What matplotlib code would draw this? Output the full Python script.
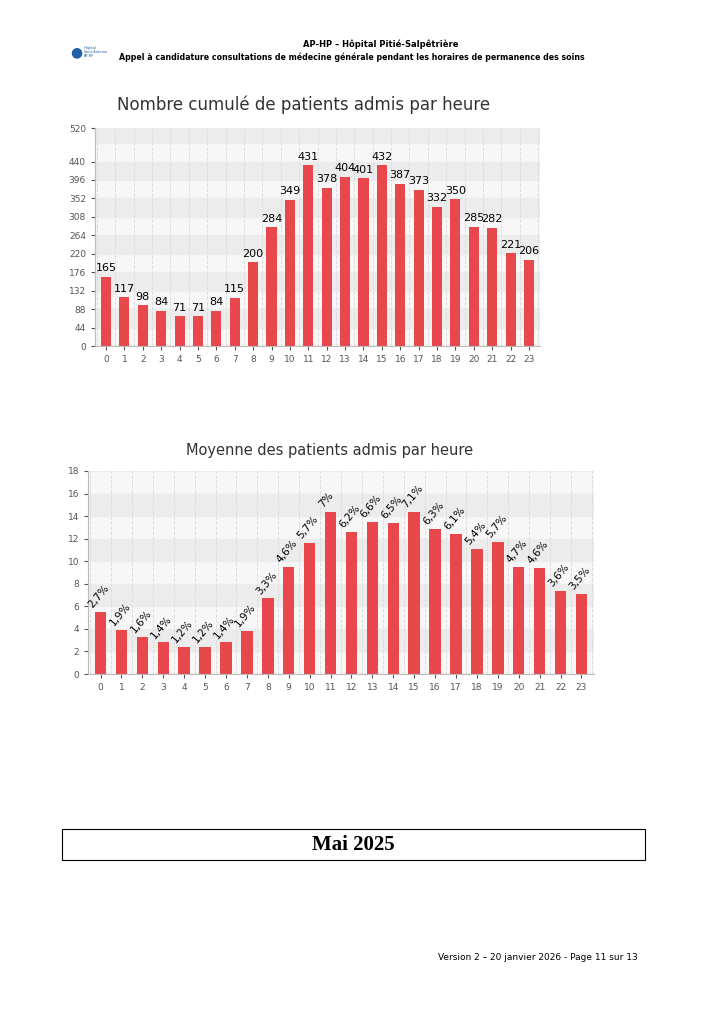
import numpy as np
from matplotlib import pyplot as plt
import matplotlib.patches as mpatches

hours = list(range(24))
cumul = [165, 117, 98, 84, 71, 71, 84, 115, 200, 284, 349, 431, 378, 404,
         401, 432, 387, 373, 332, 350, 285, 282, 221, 206]
moyenne = [5.5, 3.9, 3.3, 2.8, 2.4, 2.4, 2.8, 3.8, 6.7, 9.5, 11.6, 14.4, 12.6, 13.5,
           13.4, 14.4, 12.9, 12.4, 11.1, 11.7, 9.5, 9.4, 7.4, 7.1]
pct_labels = ["2,7%", "1,9%", "1,6%", "1,4%", "1,2%", "1,2%", "1,4%", "1,9%", "3,3%",
              "4,6%", "5,7%", "7%", "6,2%", "6,6%", "6,5%", "7,1%", "6,3%", "6,1%",
              "5,4%", "5,7%", "4,7%", "4,6%", "3,6%", "3,5%"]
top_ticks = [0, 44, 88, 132, 176, 220, 264, 308, 352, 396, 440, 520]
bot_ticks = list(range(0, 19, 2))

W, H = 724, 1024
fig = plt.figure(figsize=(W / 100, H / 100), dpi=100)
fig.patch.set_facecolor('white')
RED = '#e8474c'

def ax_at(x0, y0, x1, y1):
    return fig.add_axes([x0 / W, 1 - y1 / H, (x1 - x0) / W, (y1 - y0) / H])

def style(ax, ymax, band):
    ax.set_xlim(-0.6, 23.6)
    ax.set_ylim(0, ymax)
    ax.set_facecolor('#f7f7f7')
    for y in np.arange(0, ymax, band * 2):
        ax.axhspan(y + band, y + 2 * band, color='#ececec', zorder=0)
    for x in np.arange(-0.5, 24, 1):
        ax.axvline(x, color='#dddddd', ls='--', lw=0.7, zorder=0)
    for s in ['top', 'right']:
        ax.spines[s].set_visible(False)
    for s in ['left', 'bottom']:
        ax.spines[s].set_color('#bbbbbb')
    ax.tick_params(colors='#555555', labelsize=6.5, length=3)
    ax.set_xticks(hours)

# header
fig.text(70 / W, 1 - 52 / H, "\u25cf", color='#1f5fa8', fontsize=10, va='center')
fig.text(84 / W, 1 - 52 / H, "Hôpital\nSaint-Antoine\nAP-HP", color='#1f5fa8', fontsize=2.5,
         va='center', linespacing=1.0)
fig.text(381 / W, 1 - 47 / H, "AP-HP \u2013 Hôpital Pitié-Salpêtrière", ha='center',
         fontsize=6, fontweight='bold')
fig.text(352 / W, 1 - 60 / H, "Appel à candidature consultations de médecine générale pendant les horaires de permanence des soins",
         ha='center', fontsize=5.7, fontweight='bold')

# top chart
ax1 = ax_at(95, 128, 540, 346)
style(ax1, 520, 44)
ax1.bar(hours, cumul, width=0.55, color=RED, zorder=2)
ax1.set_yticks(top_ticks)
for h, v in zip(hours, cumul):
    ax1.text(h, v + 8, str(v), ha='center', va='bottom', fontsize=8)
fig.text(304 / W, 1 - 105 / H, "Nombre cumulé de patients admis par heure", ha='center',
         va='center', fontsize=12, color='#333333')

# bottom chart
ax2 = ax_at(88, 471, 594, 674)
style(ax2, 18, 2)
ax2.bar(hours, moyenne, width=0.55, color=RED, zorder=2)
ax2.set_yticks(bot_ticks)
for h, v, t in zip(hours, moyenne, pct_labels):
    ax2.text(h - 0.3, v + 0.2, t, ha='left', va='bottom', fontsize=7.5, rotation=50,
             rotation_mode='anchor')
fig.text(330 / W, 1 - 451 / H, "Moyenne des patients admis par heure", ha='center',
         va='center', fontsize=10.5, color='#333333')

# Mai 2025 box
fig.patches.append(mpatches.Rectangle((62 / W, 1 - 860 / H), (645 - 62) / W, 31 / H,
                                      transform=fig.transFigure, fill=False, lw=0.8,
                                      edgecolor='black'))
fig.text(353 / W, 1 - 845 / H, "Mai 2025", ha='center', va='center', fontsize=15,
         fontweight='bold', family='Liberation Serif')

fig.text(638 / W, 1 - 957 / H, "Version 2 \u2013 20 janvier 2026 - Page 11 sur 13", ha='right',
         va='center', fontsize=6.5)

fig.savefig('out.png', dpi=100)
